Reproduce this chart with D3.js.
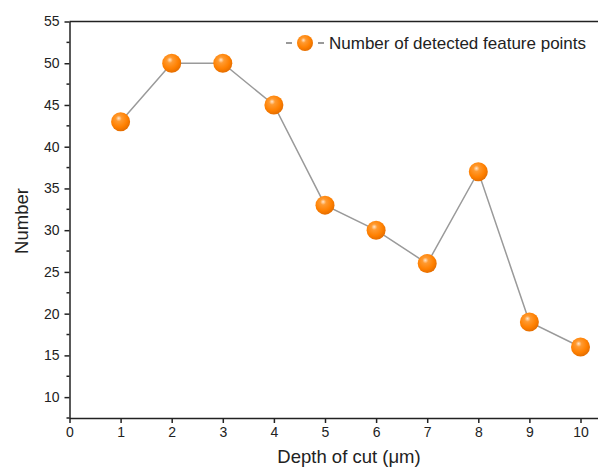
<!DOCTYPE html>
<html><head><meta charset="utf-8">
<script src="https://cdn.jsdelivr.net/npm/d3@7"></script>
<style>body{margin:0;background:#fff;} svg{display:block;font-family:"Liberation Sans",Arial,sans-serif;}</style>
</head><body>
<svg id="c" width="598" height="468"></svg>
<script>
const depths = [1,2,3,4,5,6,7,8,9,10];
const counts = [43,50,50,45,33,30,26,37,19,16];
const xTicks = [0,1,2,3,4,5,6,7,8,9,10];
const yTicks = [10,15,20,25,30,35,40,45,50,55];
const yMinor = [7.5,12.5,17.5,22.5,27.5,32.5,37.5,42.5,47.5,52.5];
const seriesName = "Number of detected feature points";

const svg = d3.select("#c");
const L = 69.5, T = 21.5, B = 418;
const x = d3.scaleLinear().domain([0,10.6]).range([L, L + 10.6*51.1]);
const y = d3.scaleLinear().domain([7.5,55]).range([B, T]);

const defs = svg.append("defs");
const g = defs.append("radialGradient").attr("id","ball").attr("cx","0.42").attr("cy","0.38").attr("r","0.62").attr("fx","0.4").attr("fy","0.32");
g.append("stop").attr("offset","0").attr("stop-color","#ffe6cc");
g.append("stop").attr("offset","0.25").attr("stop-color","#ff9a30");
g.append("stop").attr("offset","0.7").attr("stop-color","#ff8000");
g.append("stop").attr("offset","1").attr("stop-color","#e56e00");

// frame top
svg.append("line").attr("x1",L).attr("x2",598).attr("y1",T).attr("y2",T).attr("stroke","#222").attr("stroke-width",1.5);

const xa = svg.append("g").attr("transform",`translate(0,${B})`)
  .call(d3.axisBottom(x).tickValues(xTicks).tickSize(5).tickPadding(4).tickSizeOuter(0));
xa.select(".domain").attr("stroke","#222").attr("stroke-width",1.5);
xa.selectAll(".tick line").attr("stroke","#222").attr("stroke-width",1.5);
xa.selectAll("text").attr("font-size",14).attr("fill","#222");

const ya = svg.append("g").attr("transform",`translate(${L},0)`)
  .call(d3.axisLeft(y).tickValues(yTicks).tickSize(5).tickPadding(5).tickSizeOuter(0));
ya.select(".domain").attr("stroke","#222").attr("stroke-width",1.5);
ya.selectAll(".tick line").attr("stroke","#222").attr("stroke-width",1.5);
ya.selectAll("text").attr("font-size",14).attr("fill","#222");
ya.selectAll(".minor").data(yMinor).enter().append("line").attr("class","minor")
  .attr("x1",0).attr("x2",-3).attr("y1",d=>y(d)).attr("y2",d=>y(d)).attr("stroke","#222").attr("stroke-width",1.5);

const data = depths.map((d,i)=>({d, v:counts[i]}));
svg.append("path").datum(data)
  .attr("d", d3.line().x(p=>x(p.d)).y(p=>y(p.v)))
  .attr("fill","none").attr("stroke","#9a9a9a").attr("stroke-width",1.5);
svg.selectAll(".pt").data(data).enter().append("circle").attr("class","pt")
  .attr("cx",p=>x(p.d)).attr("cy",p=>y(p.v)).attr("r",9.5).attr("fill","url(#ball)");

// legend
const lg = svg.append("g").attr("transform","translate(286,43)");
lg.append("line").attr("x1",0).attr("x2",6).attr("y1",0).attr("y2",0).attr("stroke","#777").attr("stroke-width",1.5);
lg.append("line").attr("x1",32).attr("x2",38).attr("y1",0).attr("y2",0).attr("stroke","#777").attr("stroke-width",1.5);
lg.append("circle").attr("cx",19).attr("cy",0).attr("r",8).attr("fill","url(#ball)");
lg.append("text").attr("x",43).attr("y",6).attr("font-size",17).attr("fill","#222").text(seriesName);

svg.append("text").attr("x",349).attr("y",463).attr("text-anchor","middle").attr("font-size",18.5).attr("fill","#222").text("Depth of cut (μm)");
svg.append("text").attr("transform","translate(28,221) rotate(-90)").attr("text-anchor","middle").attr("font-size",18.5).attr("fill","#222").text("Number");
</script>
</body></html>
